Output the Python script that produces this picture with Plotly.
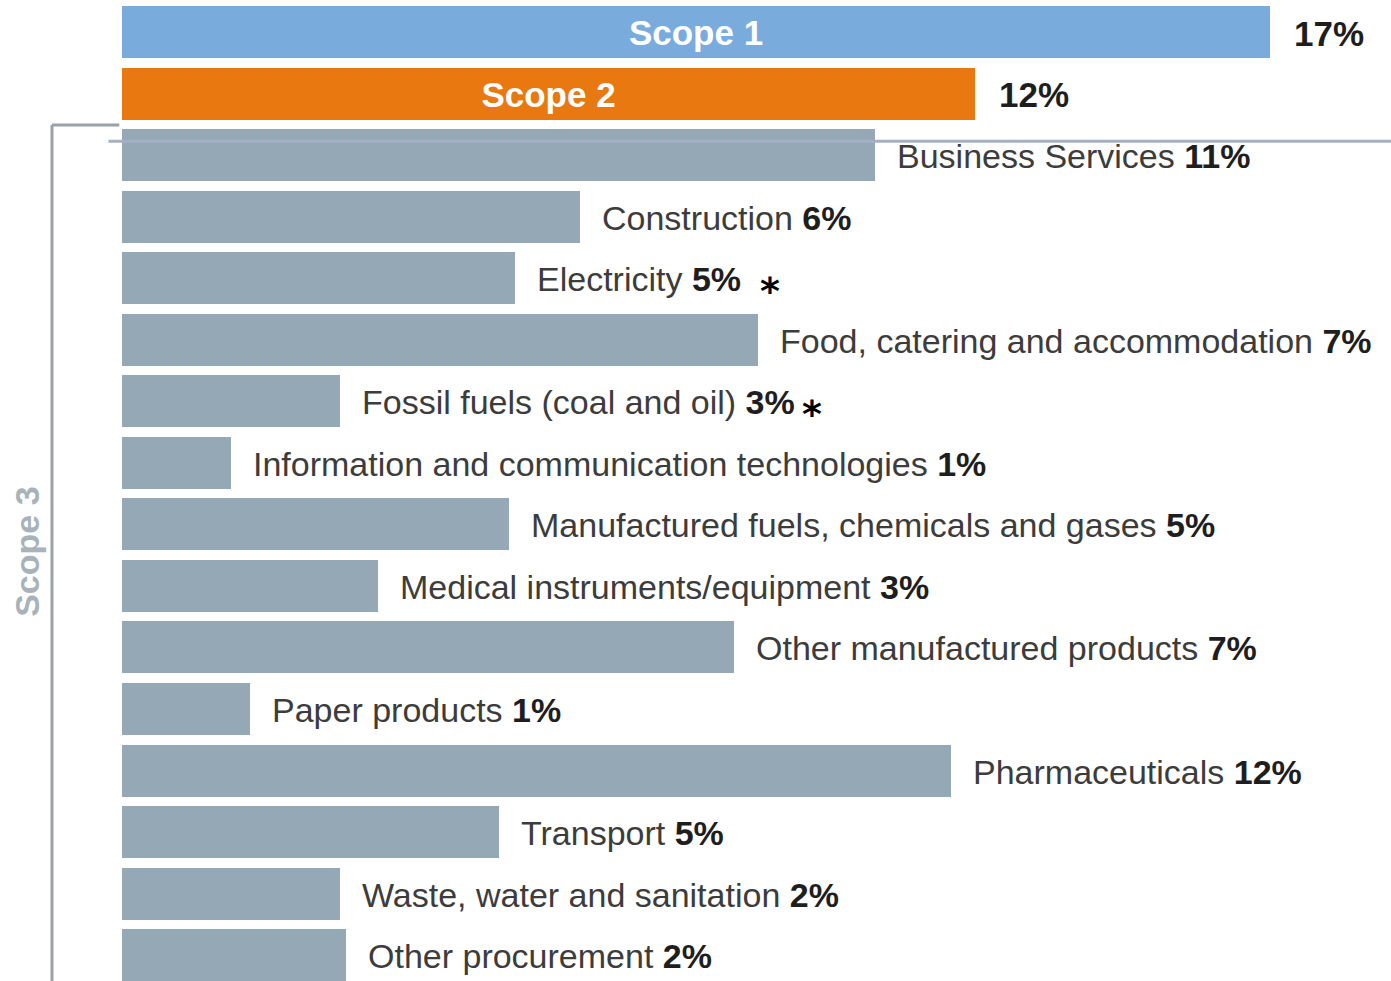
import plotly.graph_objects as go

# ---- data ----
categories = ["Scope 1", "Scope 2", "Business Services", "Construction", "Electricity",
              "Food, catering and accommodation", "Fossil fuels (coal and oil)",
              "Information and communication technologies",
              "Manufactured fuels, chemicals and gases", "Medical instruments/equipment",
              "Other manufactured products", "Paper products", "Pharmaceuticals",
              "Transport", "Waste, water and sanitation", "Other procurement"]
pct_labels = ["17%", "12%", "11%", "6%", "5%", "7%", "3%", "1%", "5%", "3%", "7%",
              "1%", "12%", "5%", "2%", "2%"]
# bar lengths as drawn (in % scale)
bar_lengths = [17.0, 12.64, 11.16, 6.79, 5.82, 9.42, 3.23, 1.61, 5.73, 3.79, 9.07,
               1.90, 12.28, 5.59, 3.23, 3.32]
asterisk_rows = ["Electricity", "Fossil fuels (coal and oil)"]

# ---- styles ----
C_S1 = "#7AABDD"
C_S2 = "#EA7811"
C_S3 = "#95A8B5"
colors = [C_S1, C_S2] + [C_S3] * (len(categories) - 2)
FONT = "Liberation Sans, Arial, sans-serif"
FS = 34

ys = list(range(len(categories)))

fig = go.Figure()
fig.add_trace(go.Bar(
    x=bar_lengths, y=ys, orientation="h",
    marker=dict(color=colors, line=dict(width=0)),
    width=0.845,
    text=["<b>Scope 1</b>", "<b>Scope 2</b>"] + [""] * (len(categories) - 2),
    textposition="inside", insidetextanchor="middle",
    textfont=dict(color="white", size=35, family=FONT),
    hoverinfo="skip",
))

annotations = []
for i, (cat, p, v) in enumerate(zip(categories, pct_labels, bar_lengths)):
    if i < 2:
        txt = f"<b>{p}</b>"
        shift = 22
        size = 35
    else:
        txt = f"{cat} <b><span style='color:#1E1E1E'>{p}</span></b>"
        shift = 20
        size = FS
    annotations.append(dict(
        x=v, y=i, xref="x", yref="y", text=txt, showarrow=False,
        xanchor="left", yanchor="middle", xshift=shift, yshift=-1,
        font=dict(size=size, family=FONT, color="#3C3C3C" if i >= 2 else "#1E1E1E"),
    ))

# asterisks
ast_shift = {"Electricity": 243, "Fossil fuels (coal and oil)": 460}
for cat in asterisk_rows:
    i = categories.index(cat)
    annotations.append(dict(
        x=bar_lengths[i], y=i, xref="x", yref="y", text="<b>*</b>", showarrow=False,
        xanchor="left", yanchor="middle", xshift=ast_shift[cat], yshift=-13,
        font=dict(size=38, family="DejaVu Sans, sans-serif", color="#000000"),
    ))

# Scope 3 rotated label
annotations.append(dict(
    x=-1.41, y=8.45, xref="x", yref="y", text="<b>Scope 3</b>", showarrow=False,
    textangle=-90, xanchor="center", yanchor="middle",
    font=dict(size=34, family=FONT, color="#A8B2BB"),
))

shapes = [
    # bracket
    dict(type="line", xref="x", yref="y", x0=-1.037, x1=-1.037, y0=1.51, y1=15.42,
         line=dict(color="#9AA2A8", width=3)),
    dict(type="line", xref="x", yref="y", x0=-1.037, x1=-0.04, y0=1.51, y1=1.51,
         line=dict(color="#9AA2A8", width=3)),
    # thin line across top of Scope 3
    dict(type="line", xref="x", yref="y", x0=-0.2, x1=18.9, y0=1.775, y1=1.775,
         line=dict(color="#A3B0C6", width=3), layer="above"),
]

fig.update_layout(
    width=1391, height=981,
    margin=dict(l=0, r=0, t=0, b=0),
    paper_bgcolor="white", plot_bgcolor="white",
    showlegend=False,
    xaxis=dict(range=[-1.807, 18.8], visible=False, fixedrange=True),
    yaxis=dict(range=[15.42, -0.52], visible=False, fixedrange=True),
    annotations=annotations, shapes=shapes,
    bargap=0,
)

fig.write_html("out.html")
